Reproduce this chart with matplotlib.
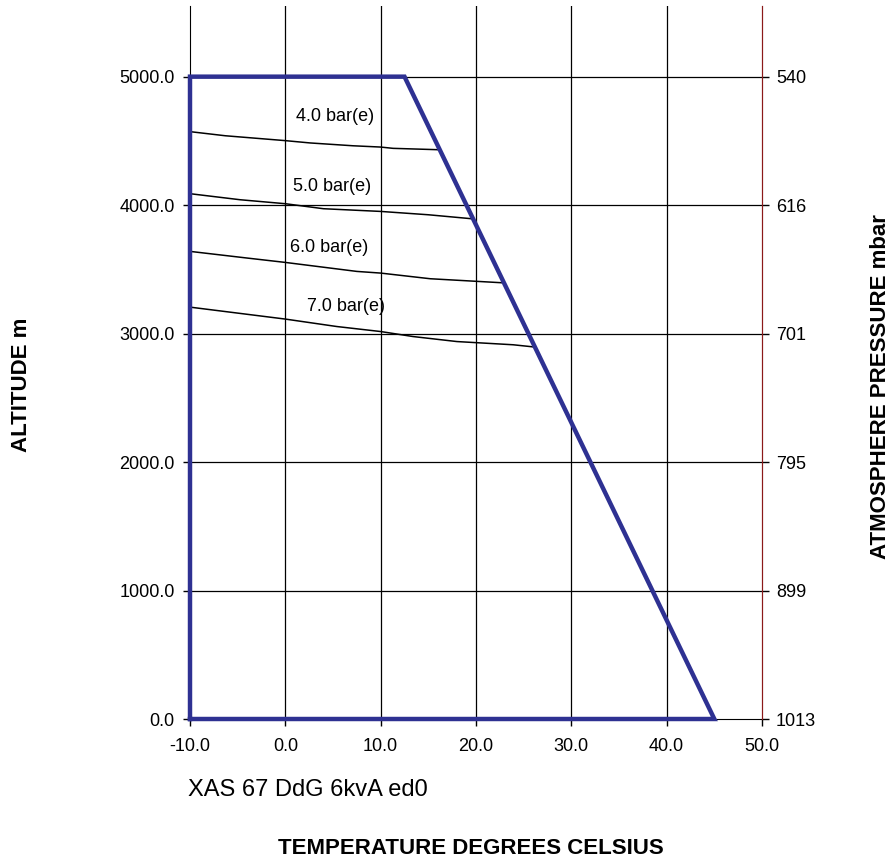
import numpy as np
import matplotlib.pyplot as plt

# envelope of the operating area (temperature degC, altitude m)
env_temp = [-10.0, -10.0, 12.5, 45.0, -10.0]
env_alt = [0, 5000, 5000, 0, 0]

# derating curves per working pressure
curve_labels = ["4.0 bar(e)", "5.0 bar(e)", "6.0 bar(e)", "7.0 bar(e)"]
curve_temp = [
    [-10, -6.3, 0, 2.6, 7.1, 10, 11.3, 16.2],
    [-10, -4.75, 0, 4, 10, 15, 19.7],
    [-10, -4, 0, 7.5, 10, 15.2, 22.9],
    [-10, 0, 5.4, 10, 13.4, 18, 23.9, 26.2],
]
curve_alt = [
    [4572, 4540, 4502, 4484, 4462, 4452, 4442, 4431],
    [4089, 4042, 4011, 3972, 3951, 3925, 3893],
    [3640, 3588, 3554, 3484, 3471, 3427, 3395],
    [3206, 3113, 3055, 3016, 2977, 2938, 2913, 2895],
]
label_pos = [(1.1, 4688), (0.8, 4143), (0.5, 3668), (2.3, 3209)]

x_ticks = [-10, 0, 10, 20, 30, 40, 50]
alt_ticks = [0, 1000, 2000, 3000, 4000, 5000]
pressure_labels = ["1013", "899", "795", "701", "616", "540"]

font = "Liberation Sans"

fig = plt.figure(figsize=(8.94, 8.61), dpi=100)
ax = fig.add_axes([190 / 894, 1 - 719 / 861, (762 - 190) / 894, (719 - 6) / 861])

ax.set_xlim(-10, 50)
ax.set_ylim(0, 5550)
ax.set_xticks(x_ticks)
ax.set_xticklabels([f"{t:.1f}" for t in x_ticks], fontsize=13, family=font)
ax.set_yticks(alt_ticks)
ax.set_yticklabels([f"{t:.1f}" for t in alt_ticks], fontsize=13, family=font)
ax.tick_params(axis="y", direction="out", length=5, width=1, color="black", pad=6)
ax.tick_params(axis="x", direction="out", length=5, width=1, color="black", pad=9)

for t in x_ticks[1:-1]:
    ax.axvline(t, color="black", lw=0.9, zorder=1)
for a in alt_ticks[1:]:
    ax.axhline(a, color="black", lw=0.9, zorder=1)

ax.spines["top"].set_visible(False)
ax.spines["right"].set_color("#8b1a1a")

for xs, ys in zip(curve_temp, curve_alt):
    ax.plot(xs, ys, color="black", lw=1.1, zorder=2)
for txt, (x, y) in zip(curve_labels, label_pos):
    ax.text(x, y, txt, fontsize=13, family=font, va="center", ha="left")

ax.plot(env_temp, env_alt, color="#2e3192", lw=3.2, solid_joinstyle="miter",
        clip_on=False, zorder=3)

ax2 = ax.twinx()
ax2.set_ylim(0, 5550)
ax2.set_yticks(alt_ticks)
ax2.set_yticklabels(pressure_labels, fontsize=13, family=font)
ax2.tick_params(direction="out", length=5, width=1, color="black", pad=5)
for s in ["top", "left", "bottom"]:
    ax2.spines[s].set_visible(False)
ax2.spines["right"].set_color("#8b1a1a")

fig.text(22 / 894, 1 - 385 / 861, "ALTITUDE m", rotation=90, fontsize=16,
         fontweight="bold", family=font, ha="center", va="center")
fig.text(881 / 894, 1 - 387 / 861, "ATMOSPHERE PRESSURE mbar", rotation=90,
         fontsize=16, fontweight="bold", family=font, ha="center", va="center")
fig.text(471 / 894, 1 - 848 / 861, "TEMPERATURE DEGREES CELSIUS", fontsize=16,
         fontweight="bold", family=font, ha="center", va="center")
fig.text(188 / 894, 1 - 790 / 861, "XAS 67 DdG 6kvA ed0", fontsize=17,
         family=font, ha="left", va="center")

fig.savefig("out.png", dpi=100)
